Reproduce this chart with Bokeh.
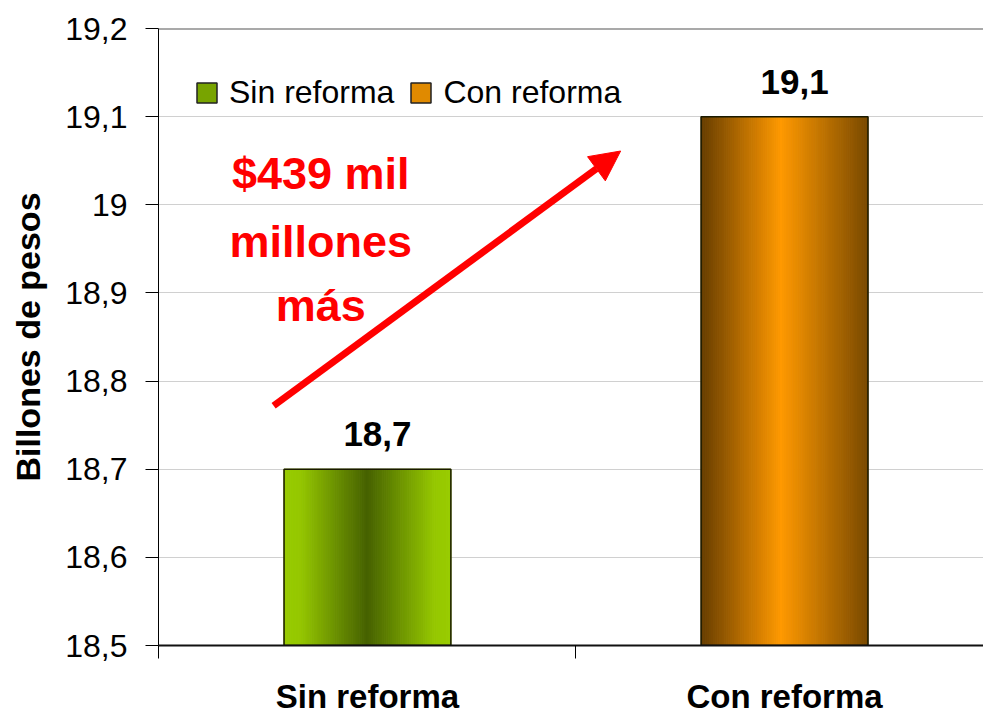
from bokeh.plotting import figure
from bokeh.models import (FixedTicker, Range1d, Arrow, NormalHead, Span,
                          Legend, LegendItem, ColumnDataSource)
from bokeh.core.properties import value
from bokeh.embed import file_html
from bokeh.resources import INLINE

# ---- data ----
categories = ["Sin reforma", "Con reforma"]
values = [18.7, 19.1]
value_labels = ["18,7", "19,1"]
y_ticks = [18.5, 18.6, 18.7, 18.8, 18.9, 19.0, 19.1, 19.2]
y_tick_labels = ["18,5", "18,6", "18,7", "18,8", "18,9", "19", "19,1", "19,2"]
note_lines = ["$439 mil", "millones", "más"]

FONT = "Liberation Sans"
Y0 = 18.5

# gradient profiles (position, rgb) per bar
profiles = [
    [(0.0, (0x99, 0xCC, 0x00)), (0.1, (0x95, 0xC7, 0x00)), (0.5, (0x46, 0x61, 0x00)),
     (0.9, (0x95, 0xC7, 0x00)), (1.0, (0x99, 0xCC, 0x00))],
    [(0.0, (0x66, 0x3D, 0x00)), (0.48, (0xFF, 0x99, 0x00)), (1.0, (0x7A, 0x4A, 0x00))],
]
legend_colors = ["#78a400", "#e08a00"]


def interp(prof, t):
    for (p0, c0), (p1, c1) in zip(prof[:-1], prof[1:]):
        if p0 <= t <= p1:
            f = (t - p0) / (p1 - p0) if p1 > p0 else 0
            return "#%02x%02x%02x" % tuple(int(round(a + (b - a) * f)) for a, b in zip(c0, c1))
    return "#%02x%02x%02x" % prof[-1][1]


centers = [0.501 + i for i in range(len(categories))]
bar_w = 0.4
N = 80

p = figure(width=983, height=718, output_backend="svg", toolbar_location=None,
           x_range=Range1d(0, 1.978), y_range=Range1d(Y0, 19.2),
           min_border_left=158, min_border_top=28, min_border_bottom=73,
           min_border_right=0)
p.outline_line_color = None
p.background_fill_color = "white"

for i, (c, v) in enumerate(zip(centers, values)):
    xs, tops, cols = [], [], []
    for k in range(N):
        t = (k + 0.5) / N
        xs.append(c - bar_w / 2 + t * bar_w)
        tops.append(v)
        cols.append(interp(profiles[i], t))
    src = ColumnDataSource(dict(x=xs, top=tops, color=cols))
    p.vbar(x="x", top="top", bottom=Y0, width=bar_w / N, fill_color="color",
           line_color="color", line_width=1, source=src)
    p.vbar(x=[c], top=[v], bottom=Y0, width=bar_w, fill_color=None,
           line_color="#1a1a00", line_width=1.5)

# legend (representative squares)
items = []
for name, col in zip(categories, legend_colors):
    r = p.vbar(x=[-10], top=[-10], bottom=-11, width=0.1, fill_color=col,
               line_color="#222222", line_width=1.5)
    items.append(LegendItem(label=name, renderers=[r]))
legend = Legend(items=items, orientation="horizontal", location=(36, 534),
                label_text_font=FONT, label_text_font_size="32px",
                label_text_color="black", glyph_width=25, glyph_height=25,
                label_standoff=10, spacing=14, padding=6, margin=0,
                border_line_color=None, background_fill_alpha=0)
p.add_layout(legend, "center")

# top dark line
p.add_layout(Span(location=19.2, dimension="width", line_color="#555555", line_width=2))

# value labels
p.text(x=centers, y=values, text=value_labels, text_font=value(FONT),
       text_font_style="bold", text_font_size="35px", text_align="center",
       text_baseline="bottom", x_offset=10, y_offset=-23, text_color="black")

# arrow
p.add_layout(Arrow(end=NormalHead(size=30, fill_color="red", line_color="red", line_width=1),
                   x_start=0.276, y_start=18.772, x_end=1.108, y_end=19.061,
                   line_color="red", line_width=7))

# note text
note_y = [19.035, 18.958, 18.886]
p.text(x=[0.389] * 3, y=note_y, text=note_lines, text_font=value(FONT),
       text_font_style="bold", text_font_size="45px", text_align="center",
       text_baseline="middle", text_color="#ff0000")

# axes
yax = p.yaxis[0]
yax.ticker = FixedTicker(ticks=y_ticks, minor_ticks=[])
yax.major_label_overrides = {t: l for t, l in zip(y_ticks, y_tick_labels)}
yax.major_label_text_font = FONT
yax.major_label_text_font_size = "32px"
yax.major_label_text_color = "black"
yax.major_tick_out = 13
yax.major_tick_in = 0
yax.major_tick_line_color = "black"
yax.major_label_standoff = 18
yax.axis_line_color = "black"
yax.axis_label = "Billones de pesos"
yax.axis_label_text_font = FONT
yax.axis_label_text_font_style = "bold"
yax.axis_label_text_font_size = "34px"
yax.axis_label_standoff = 15
yax.axis_label_text_color = "black"

xax = p.xaxis[0]
xax.ticker = FixedTicker(ticks=centers, minor_ticks=[0, 1, 2])
xax.major_label_overrides = {c: n for c, n in zip(centers, categories)}
xax.major_tick_line_color = None
xax.minor_tick_line_color = "black"
xax.minor_tick_out = 13
xax.minor_tick_in = 0
xax.major_label_text_font = FONT
xax.major_label_text_font_style = "bold"
xax.major_label_text_font_size = "33px"
xax.major_label_text_color = "black"
xax.major_label_standoff = 19
xax.axis_line_color = "#111111"
xax.axis_line_width = 2

p.xgrid.grid_line_color = None
p.ygrid.ticker = FixedTicker(ticks=y_ticks)
p.ygrid.grid_line_color = "#d0d0d0"
p.ygrid.grid_line_width = 1

open("out.html", "w").write(file_html(p, INLINE))
